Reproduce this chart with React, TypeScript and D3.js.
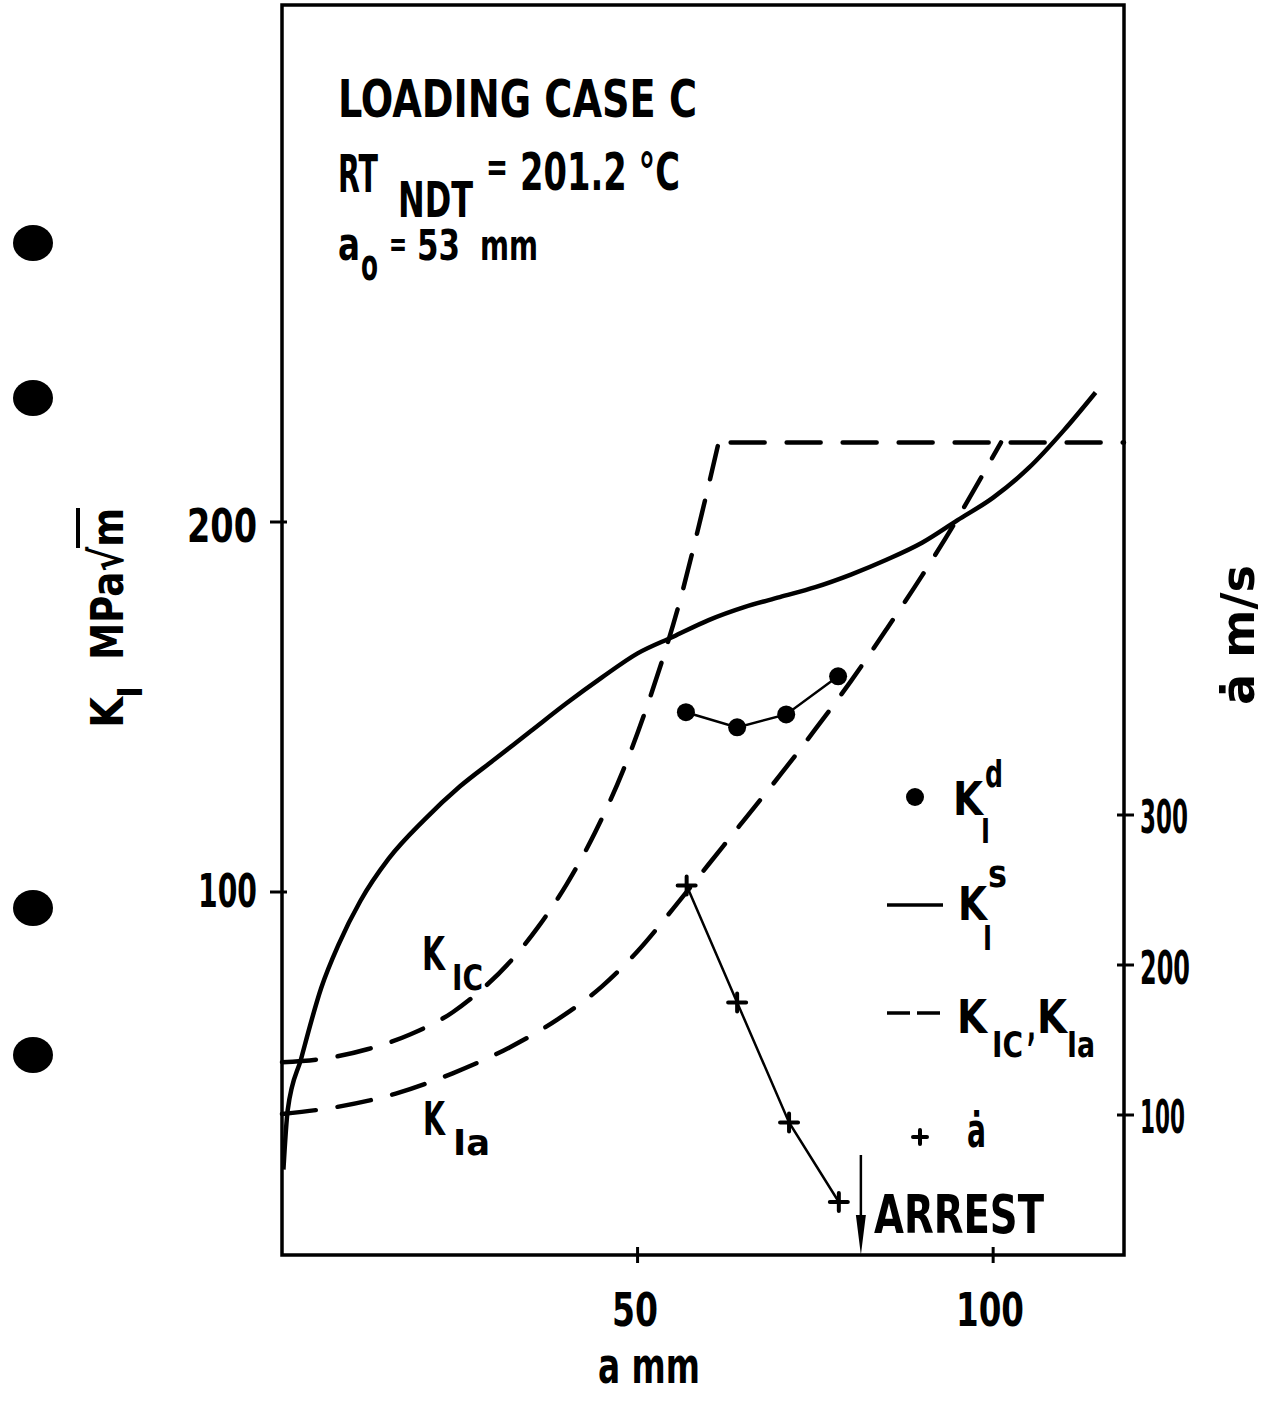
import React from 'react';
import * as d3 from 'd3';

// a (mm) and K (MPa√m)
const ksA = [0.2, 0.8, 2.7, 5.5, 8, 11, 15, 20, 25, 30, 35, 40, 45, 50, 55, 60, 65, 70, 75, 80, 85, 90, 95, 100, 105, 110, 114.4];
const ksK = [25, 41, 55, 74, 86, 97.5, 109, 119.5, 128.5, 136, 143.5, 151, 158, 164.5, 169, 173.5, 177, 179.7, 182.4, 185.8, 189.8, 194.4, 200.5, 206.6, 214.6, 224.9, 235];

const kicA = [0, 6, 12, 18, 24, 28, 32, 36, 40, 44, 48, 52, 56, 59, 61.4];
const kicK = [54, 55, 57.5, 61.5, 67.5, 73.5, 81, 90.5, 102, 116, 133, 154, 179, 202, 221.5];

const kiaA = [0, 8, 16, 24, 32, 38.7, 45, 50, 55, 60, 65, 70, 75, 80, 85, 90, 95, 98, 101.1];
const kiaK = [40, 42, 45.5, 51, 58, 65.5, 74.5, 84, 95.5, 107.5, 119.5, 131.5, 144, 157, 171, 185.5, 201, 211, 221.5];

const kdA = [56.8, 64.0, 70.9, 78.2];
const kdK = [148.6, 144.5, 148.0, 158.3];

const adotA = [56.9, 64.0, 71.3, 78.3];
const adotV = [253, 175, 95, 42];

const arrestA = 81.4;
const xTicks = [50, 100];
const yTicks = [100, 200];
const vTicks = [100, 200, 300];

const W = 1269, H = 1403;
const L = 282, R = 1124, T = 5, B = 1255;

const x = d3.scaleLinear().domain([0, 118.4]).range([L, R]);
const yK = d3.scaleLinear().domain([100 - (B - 892) / 3.7, 100 + (892 - T) / 3.7]).range([B, T]);
const yV = d3.scaleLinear().domain([100 - (B - 1115) / 1.5, 100 + (1115 - T) / 1.5]).range([B, T]);

const FONT = "'DejaVu Sans Condensed', 'DejaVu Sans', sans-serif";
const ink = '#000';

function Tx({ x, y, w, size, children }: any) {
  return (
    <text x={x} y={y} fontSize={size} textLength={w} lengthAdjust="spacingAndGlyphs" fill={ink}>
      {children}
    </text>
  );
}

const pts = (a: number[], v: number[], ys: any) => a.map((d, i) => [x(d), ys(v[i])] as [number, number]);

export default function App() {
  const smooth = d3.line().curve(d3.curveMonotoneX);
  const straight = d3.line();
  const dash = '34 22';
  const kicTop = kicK[kicK.length - 1];
  const plus = (cx: number, cy: number, s = 9) => `M${cx - s},${cy}H${cx + s}M${cx},${cy - s}V${cy + s}`;

  return (
    <svg width={W} height={H} style={{ position: 'absolute', left: 0, top: 0, background: '#fff' }}
      fontFamily={FONT} fontWeight="bold">
      <rect width={W} height={H} fill="#fff" />

      {/* punch holes of the scanned page */}
      {[243, 398, 908, 1055].map(cy => <ellipse key={cy} cx={33} cy={cy} rx={20} ry={18} fill={ink} />)}

      {/* frame */}
      <path d={`M${L},${T}H${R}V${B}H${L}Z`} fill="none" stroke={ink} strokeWidth={3.5} />

      {/* ticks */}
      {yTicks.map(t => <line key={'y' + t} x1={L - 12} x2={L + 5} y1={yK(t)} y2={yK(t)} stroke={ink} strokeWidth={3} />)}
      {vTicks.map(t => <line key={'v' + t} x1={R - 7} x2={R + 10} y1={yV(t)} y2={yV(t)} stroke={ink} strokeWidth={3} />)}
      {xTicks.map(t => <line key={'x' + t} x1={x(t)} x2={x(t)} y1={B - 8} y2={B + 8} stroke={ink} strokeWidth={3} />)}

      {/* tick labels */}
      <Tx x={187} y={542} w={70} size={46}>200</Tx>
      <Tx x={198} y={907} w={59} size={46}>100</Tx>
      <Tx x={1140} y={833} w={48} size={46}>300</Tx>
      <Tx x={1140} y={984} w={50} size={46}>200</Tx>
      <Tx x={1140} y={1133} w={45} size={46}>100</Tx>
      <Tx x={612} y={1326} w={46} size={46}>50</Tx>
      <Tx x={956} y={1326} w={68} size={46}>100</Tx>
      <Tx x={598} y={1383} w={102} size={50}>a mm</Tx>

      {/* axis titles */}
      <g transform="translate(123,728) rotate(-90)">
        <Tx x={0} y={0} w={31} size={45}>K</Tx>
        <Tx x={30} y={19} w={12} size={34}>I</Tx>
        <Tx x={68} y={0} w={152} size={45}>MPa√m</Tx>
        <line x1={180} x2={220} y1={-45} y2={-45} stroke={ink} strokeWidth={4} />
      </g>
      <g transform="translate(1254,705) rotate(-90)">
        <Tx x={0} y={0} w={140} size={46}>ȧ m/s</Tx>
      </g>

      {/* header text */}
      <Tx x={338} y={117} w={359} size={52}>LOADING CASE C</Tx>
      <Tx x={338} y={192} w={40} size={52}>RT</Tx>
      <Tx x={398} y={217} w={75} size={50}>NDT</Tx>
      <Tx x={486} y={181} w={22} size={40}>=</Tx>
      <Tx x={520} y={190} w={160} size={52}>201.2 °C</Tx>
      <Tx x={338} y={260} w={22} size={46}>a</Tx>
      <Tx x={361} y={280} w={17} size={44}>o</Tx>
      <Tx x={389} y={256} w={18} size={36}>=</Tx>
      <Tx x={417} y={260} w={43} size={42}>53</Tx>
      <Tx x={480} y={260} w={58} size={42}>mm</Tx>

      {/* K_IC and K_Ia (dashed) */}
      <path d={smooth(pts(kicA, kicK, yK)) || ''} fill="none" stroke={ink} strokeWidth={4.5}
        strokeDasharray={dash} strokeLinecap="round" />
      <path d={straight([[x(kicA[kicA.length - 1]), yK(kicTop)], [R, yK(kicTop)]]) || ''} fill="none" stroke={ink}
        strokeWidth={4.5} strokeDasharray={dash} strokeDashoffset={-12} strokeLinecap="round" />
      <path d={smooth(pts(kiaA, kiaK, yK)) || ''} fill="none" stroke={ink} strokeWidth={4.5}
        strokeDasharray={dash} strokeLinecap="round" />

      {/* K_I^s (solid) */}
      <path d={smooth(pts(ksA, ksK, yK)) || ''} fill="none" stroke={ink} strokeWidth={4.5} />

      {/* K_I^d dots */}
      <path d={straight(pts(kdA, kdK, yK)) || ''} fill="none" stroke={ink} strokeWidth={2.5} />
      {pts(kdA, kdK, yK).map(([cx, cy], i) => <circle key={i} cx={cx} cy={cy} r={9} fill={ink} />)}

      {/* crack speed */}
      <path d={straight(pts(adotA, adotV, yV)) || ''} fill="none" stroke={ink} strokeWidth={2.5} />
      {pts(adotA, adotV, yV).map(([cx, cy], i) => (
        <path key={i} d={plus(cx, cy)} stroke={ink} strokeWidth={4} strokeLinecap="round" />
      ))}

      {/* arrest arrow */}
      <line x1={x(arrestA)} x2={x(arrestA)} y1={B - 100} y2={B - 30} stroke={ink} strokeWidth={2.5} />
      <path d={`M${x(arrestA) - 5},${B - 40}L${x(arrestA) + 5},${B - 40}L${x(arrestA)},${B}Z`} fill={ink} />
      <Tx x={874} y={1233} w={170} size={54}>ARREST</Tx>

      {/* curve labels */}
      <Tx x={422} y={970} w={23} size={46}>K</Tx>
      <Tx x={452} y={990} w={31} size={36}>IC</Tx>
      <Tx x={423} y={1135} w={22} size={46}>K</Tx>
      <Tx x={453} y={1155} w={37} size={36}>Ia</Tx>

      {/* legend */}
      <circle cx={915} cy={797} r={9} fill={ink} />
      <Tx x={953} y={815} w={30} size={46}>K</Tx>
      <Tx x={985} y={787} w={18} size={38}>d</Tx>
      <Tx x={981} y={843} w={9} size={34}>I</Tx>

      <line x1={887} x2={943} y1={905} y2={905} stroke={ink} strokeWidth={3.5} />
      <Tx x={958} y={920} w={29} size={46}>K</Tx>
      <Tx x={988} y={887} w={19} size={38}>s</Tx>
      <Tx x={983} y={950} w={9} size={34}>I</Tx>

      <line x1={887} x2={940} y1={1013} y2={1013} stroke={ink} strokeWidth={3.5} strokeDasharray="23 7" />
      <Tx x={957} y={1033} w={30} size={46}>K</Tx>
      <Tx x={992} y={1057} w={31} size={36}>IC</Tx>
      <Tx x={1027} y={1040} w={9} size={40}>,</Tx>
      <Tx x={1037} y={1033} w={30} size={46}>K</Tx>
      <Tx x={1067} y={1057} w={28} size={36}>Ia</Tx>

      <path d={plus(920, 1137, 7)} stroke={ink} strokeWidth={4} strokeLinecap="round" />
      <Tx x={967} y={1147} w={19} size={48}>ȧ</Tx>
    </svg>
  );
}
